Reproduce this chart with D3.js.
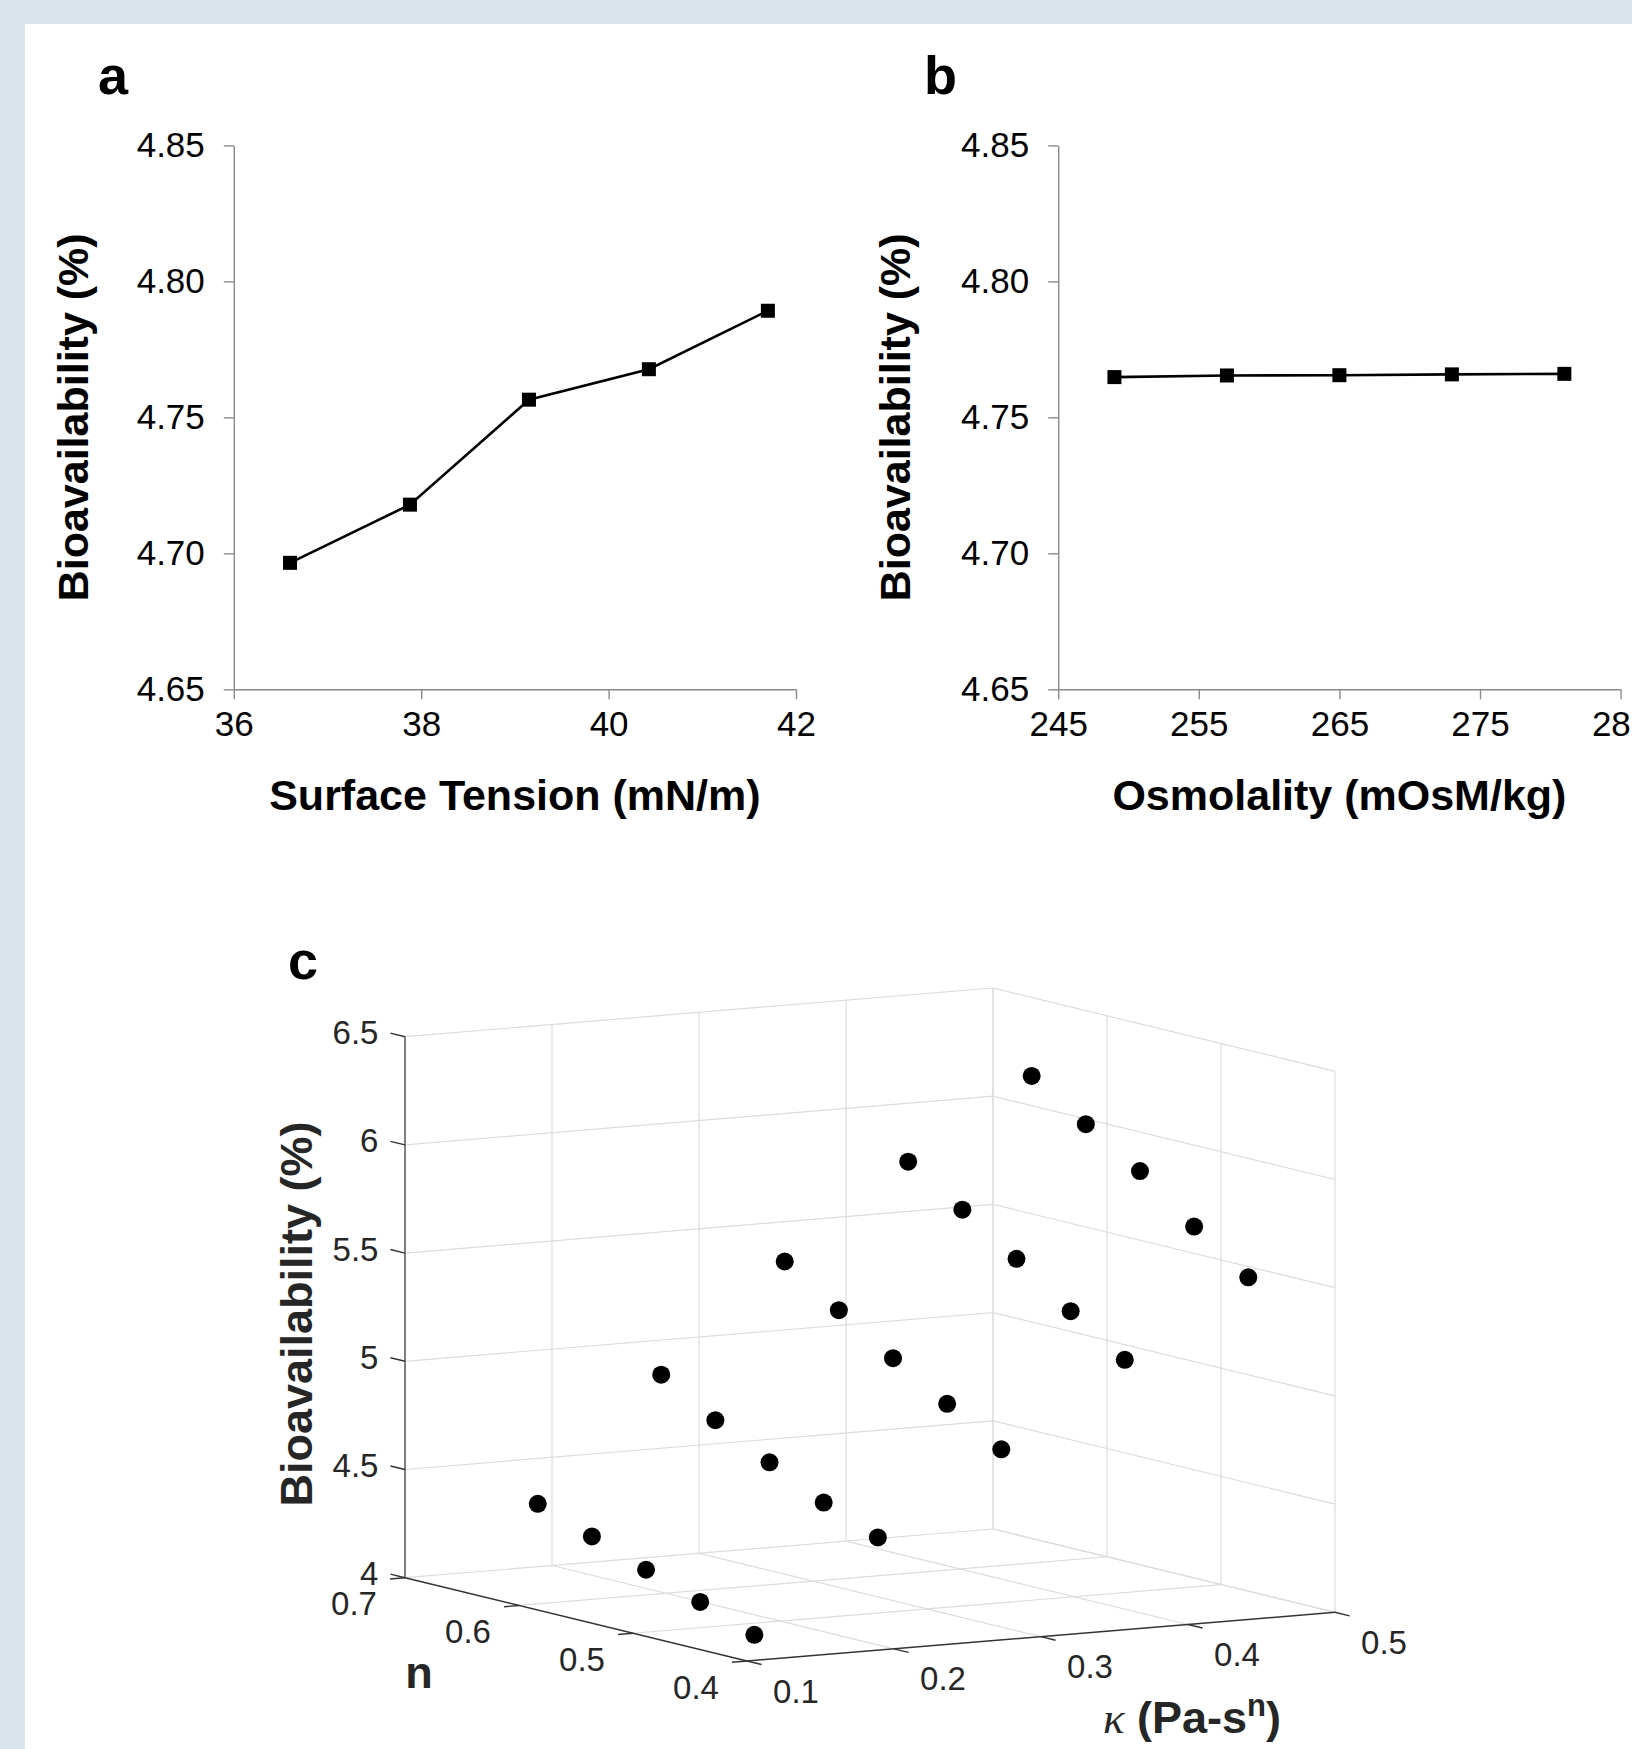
<!DOCTYPE html>
<html>
<head>
<meta charset="utf-8">
<script src="https://cdn.jsdelivr.net/npm/d3@7"></script>
<style>
  body { margin: 0; background: #d9e4eb; }
  svg text { font-family: Arial, "Liberation Sans", Helvetica, sans-serif; }
</style>
</head>
<body>
<svg id="fig"></svg>
<script>
// ---- data: panel a (surface tension) ----
const tensionX = [36.60, 37.88, 39.15, 40.43, 41.70];
const tensionBio = [4.6965, 4.7179, 4.7565, 4.7677, 4.7892];
const tensionTicks = [36, 38, 40, 42];

// ---- data: panel b (osmolality) ----
const osmoX = [249, 257, 265, 273, 281];
const osmoBio = [4.7648, 4.7654, 4.7655, 4.7658, 4.7660];
const osmoTicks = [245, 255, 265, 275, 285];

const bioTicks = [4.65, 4.70, 4.75, 4.80, 4.85];

// ---- data: panel c (kappa, n, bioavailability) ----
const kappaC = [0.105, 0.105, 0.105, 0.105, 0.105,
                0.189, 0.189, 0.189, 0.189, 0.189,
                0.273, 0.273, 0.273, 0.273, 0.273,
                0.357, 0.357, 0.357, 0.357, 0.357,
                0.441, 0.441, 0.441, 0.441, 0.441];
const nC = [0.59, 0.5425, 0.495, 0.4475, 0.40,
            0.59, 0.5425, 0.495, 0.4475, 0.40,
            0.59, 0.5425, 0.495, 0.4475, 0.40,
            0.59, 0.5425, 0.495, 0.4475, 0.40,
            0.59, 0.5425, 0.495, 0.4475, 0.40];
const bioC = [4.480, 4.390, 4.297, 4.209, 4.118,
              5.029, 4.880, 4.746, 4.621, 4.521,
              5.505, 5.341, 5.180, 5.030, 4.881,
              5.919, 5.758, 5.592, 5.411, 5.247,
              6.268, 6.106, 5.950, 5.755, 5.581];
const kappaTicks = [0.1, 0.2, 0.3, 0.4, 0.5];
const nTicks = [0.4, 0.5, 0.6, 0.7];
const zTicks = [4, 4.5, 5, 5.5, 6, 6.5];

// ---- layout ----
const W = 1632, H = 1749;
const AXIS_GRAY = "#8a8a8a";
const TICK_FONT = 35;
const TICK_FONT_C = 33;
const LABEL_FONT = 43;

const svg = d3.select("#fig").attr("width", W).attr("height", H);
svg.append("rect").attr("width", W).attr("height", H).attr("fill", "#d9e4eb");
svg.append("rect").attr("x", 25).attr("y", 24).attr("width", W - 25).attr("height", H - 24).attr("fill", "#fff");

const panelLetter = (x, y, t) => svg.append("text")
  .attr("x", x).attr("y", y).attr("font-size", 54).attr("font-weight", "bold").text(t);

// 2D line panel (a, b)
function linePanel(p) {
  const x = d3.scaleLinear().domain(p.xDomain).range(p.xRange);
  const y = d3.scaleLinear().domain([4.65, 4.85]).range([689.3, 145.4]);
  const g = svg.append("g");

  const yAxis = g.append("g").attr("transform", `translate(${p.xRange[0]},0)`)
    .call(d3.axisLeft(y).tickValues(bioTicks).tickFormat(d3.format(".2f"))
      .tickSize(10).tickSizeOuter(0).tickPadding(19));
  const xAxis = g.append("g").attr("transform", `translate(0,${y.range()[0]})`)
    .call(d3.axisBottom(x).tickValues(p.xTicks).tickFormat(d3.format("d"))
      .tickSize(10).tickSizeOuter(0).tickPadding(12));
  [yAxis, xAxis].forEach(ax => {
    ax.attr("font-family", null).attr("font-size", TICK_FONT);
    ax.selectAll("path, line").attr("stroke", AXIS_GRAY).attr("stroke-width", 1.4);
    ax.selectAll("text").attr("fill", "#000");
  });

  const line = d3.line().x(d => x(d[0])).y(d => y(d[1]));
  const pts = p.xs.map((v, i) => [v, p.ys[i]]);
  g.append("path").attr("d", line(pts)).attr("fill", "none")
    .attr("stroke", "#000").attr("stroke-width", 2.6);
  const S = 14;
  g.selectAll(".sq").data(pts).enter().append("rect")
    .attr("x", d => x(d[0]) - S / 2).attr("y", d => y(d[1]) - S / 2)
    .attr("width", S).attr("height", S).attr("fill", "#000");

  g.append("text")
    .attr("transform", `translate(${p.yLabelX},${(y.range()[0] + y.range()[1]) / 2}) rotate(-90)`)
    .attr("text-anchor", "middle").attr("dominant-baseline", "central")
    .attr("font-size", LABEL_FONT).attr("font-weight", "bold").text("Bioavailability (%)");
  g.append("text")
    .attr("x", (p.xRange[0] + p.xRange[1]) / 2).attr("y", 810)
    .attr("text-anchor", "middle")
    .attr("font-size", LABEL_FONT).attr("font-weight", "bold").text(p.xLabel);
}

linePanel({ xs: tensionX, ys: tensionBio, xDomain: [36, 42], xRange: [233.8, 796],
  xTicks: tensionTicks, xLabel: "Surface Tension (mN/m)", yLabelX: 73 });
linePanel({ xs: osmoX, ys: osmoBio, xDomain: [245, 285], xRange: [1058.2, 1620.6],
  xTicks: osmoTicks, xLabel: "Osmolality (mOsM/kg)", yLabelX: 895 });

panelLetter(98, 94, "a");
panelLetter(924, 94, "b");
panelLetter(288, 979, "c");

// ---- panel c: 3D scatter (orthographic projection) ----
const kS = d3.scaleLinear().domain([0.1, 0.5]).range([0, 1]);
const nS = d3.scaleLinear().domain([0.4, 0.7]).range([0, 1]);
const zS = d3.scaleLinear().domain([4, 6.5]).range([0, 1]);
const O = [747, 1661], VK = [588, -48.7], VN = [-342, -83.3], VZ = -541;
function proj(k, n, z) {
  const a = kS(k), b = nS(n), c = zS(z);
  return [O[0] + VK[0] * a + VN[0] * b, O[1] + VK[1] * a + VN[1] * b + VZ * c];
}
const unit = v => { const l = Math.hypot(v[0], v[1]); return [v[0] / l, v[1] / l]; };
const uK = unit(VK), uN = unit(VN);

const gc = svg.append("g");
const GRID = "#dcdcdc";
const seg = (p1, p2, color, w) => gc.append("line")
  .attr("x1", p1[0]).attr("y1", p1[1]).attr("x2", p2[0]).attr("y2", p2[1])
  .attr("stroke", color).attr("stroke-width", w);

const kMin = 0.1, kMax = 0.5, nMin = 0.4, nMax = 0.7, zMin = 4, zMax = 6.5;
// floor grid
kappaTicks.forEach(k => { if (k !== kMin) seg(proj(k, nMin, zMin), proj(k, nMax, zMin), GRID, 1.2); });
nTicks.forEach(n => { if (n !== nMin) seg(proj(kMin, n, zMin), proj(kMax, n, zMin), GRID, 1.2); });
// back wall n = nMax
kappaTicks.forEach(k => { if (k !== kMin) seg(proj(k, nMax, zMin), proj(k, nMax, zMax), GRID, 1.2); });
zTicks.forEach(z => { if (z !== zMin) seg(proj(kMin, nMax, z), proj(kMax, nMax, z), GRID, 1.2); });
// back wall k = kMax
nTicks.forEach(n => seg(proj(kMax, n, zMin), proj(kMax, n, zMax), GRID, 1.2));
zTicks.forEach(z => seg(proj(kMax, nMin, z), proj(kMax, nMax, z), GRID, 1.2));

// axes
const AX = "#333";
seg(proj(kMin, nMax, zMin), proj(kMin, nMax, zMax), "#555", 1.5);
seg(proj(kMin, nMax, zMin), proj(kMin, nMin, zMin), AX, 1.5);
seg(proj(kMin, nMin, zMin), proj(kMax, nMin, zMin), AX, 1.5);

const TL = 15;
zTicks.forEach(z => {
  const p = proj(kMin, nMax, z);
  seg(p, [p[0] + uN[0] * TL, p[1] + uN[1] * TL], AX, 1.4);
  gc.append("text").attr("x", p[0] + uN[0] * TL - 12).attr("y", p[1] - 4)
    .attr("text-anchor", "end").attr("dominant-baseline", "central")
    .attr("font-size", TICK_FONT_C).attr("fill", "#262626").text(d3.format("~g")(z));
});
nTicks.forEach(n => {
  const p = proj(kMin, n, zMin);
  seg(p, [p[0] - uK[0] * TL, p[1] - uK[1] * TL], AX, 1.4);
  gc.append("text").attr("x", p[0] - 51).attr("y", p[1] + 26)
    .attr("text-anchor", "middle").attr("dominant-baseline", "central")
    .attr("font-size", TICK_FONT_C).attr("fill", "#262626").text(d3.format(".1f")(n));
});
kappaTicks.forEach(k => {
  const p = proj(k, nMin, zMin);
  seg(p, [p[0] - uN[0] * TL, p[1] - uN[1] * TL], AX, 1.4);
  gc.append("text").attr("x", p[0] + 49).attr("y", p[1] + 30)
    .attr("text-anchor", "middle").attr("dominant-baseline", "central")
    .attr("font-size", TICK_FONT_C).attr("fill", "#262626").text(d3.format(".1f")(k));
});

// points
gc.selectAll(".pt").data(bioC.map((z, i) => proj(kappaC[i], nC[i], z))).enter()
  .append("circle").attr("cx", d => d[0]).attr("cy", d => d[1]).attr("r", 9).attr("fill", "#000");

// axis titles
gc.append("text").attr("transform", "translate(296,1314) rotate(-90)")
  .attr("text-anchor", "middle").attr("dominant-baseline", "central")
  .attr("font-size", 45).attr("font-weight", "bold").attr("fill", "#262626").text("Bioavailability (%)");
gc.append("text").attr("x", 419).attr("y", 1688).attr("text-anchor", "middle")
  .attr("font-size", 45).attr("font-weight", "bold").attr("fill", "#262626").text("n");
const kl = gc.append("text").attr("x", 1192).attr("y", 1733).attr("text-anchor", "middle")
  .attr("font-size", 45).attr("font-weight", "bold").attr("fill", "#262626");
kl.append("tspan").attr("font-style", "italic").attr("font-weight", "normal")
  .attr("font-family", "'Liberation Serif', 'Times New Roman', serif").text("κ");
kl.append("tspan").text(" (Pa-s");
kl.append("tspan").attr("dy", -17).attr("font-size", 31).text("n");
kl.append("tspan").attr("dy", 17).text(")");
</script>
</body>
</html>
